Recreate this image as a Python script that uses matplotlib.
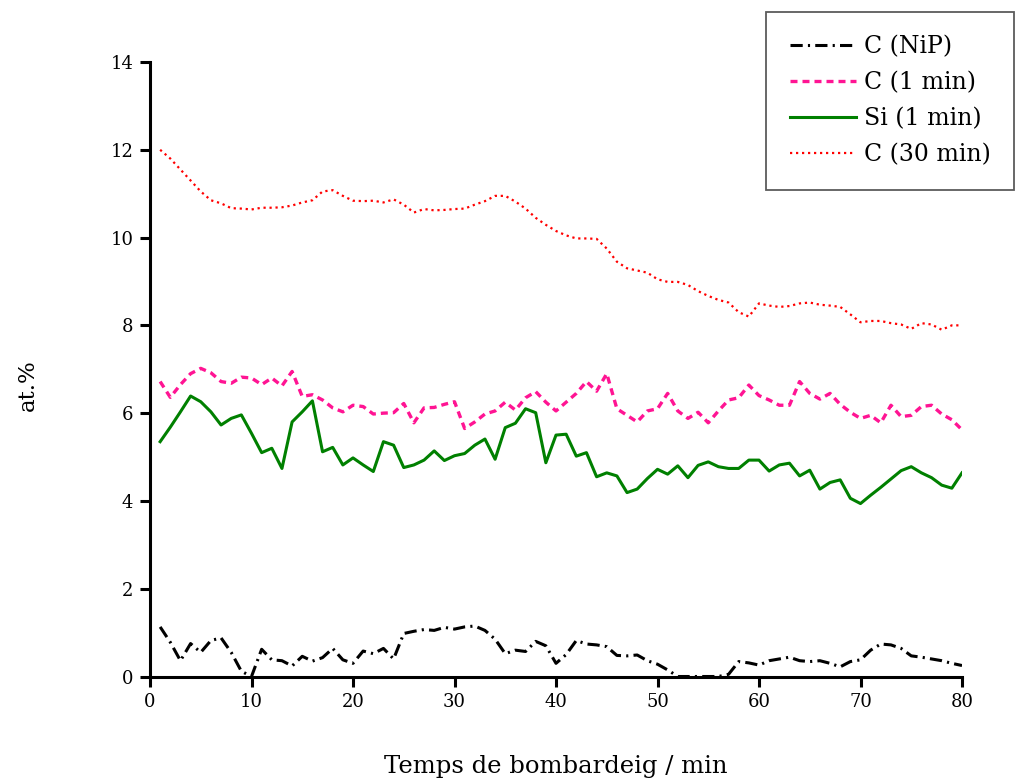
import matplotlib
matplotlib.use("Agg")
import matplotlib.pyplot as plt
import numpy as np

# Sputter time (min)
t = np.arange(1, 81)

c_nip = [1.13, 0.78, 0.36, 0.75, 0.55, 0.82, 0.88, 0.55, 0.12, 0.0,
         0.62, 0.38, 0.36, 0.24, 0.46, 0.35, 0.43, 0.64, 0.38, 0.30,
         0.58, 0.52, 0.64, 0.40, 0.98, 1.03, 1.07, 1.05, 1.12, 1.08,
         1.13, 1.15, 1.05, 0.85, 0.52, 0.60, 0.57, 0.80, 0.70, 0.30,
         0.50, 0.82, 0.74, 0.72, 0.68, 0.48, 0.47, 0.49, 0.36, 0.28,
         0.15, 0.0, 0.0, 0.0, 0.0, 0.0, 0.05, 0.34, 0.31, 0.26,
         0.36, 0.40, 0.44, 0.36, 0.34, 0.36, 0.30, 0.22, 0.34, 0.38,
         0.60, 0.74, 0.72, 0.64, 0.47, 0.44, 0.40, 0.36, 0.30, 0.25]

c_1min = [6.72, 6.36, 6.65, 6.90, 7.02, 6.92, 6.72, 6.68, 6.82, 6.80,
          6.65, 6.80, 6.62, 6.95, 6.38, 6.42, 6.30, 6.12, 6.03, 6.18,
          6.15, 5.98, 6.00, 6.01, 6.22, 5.78, 6.12, 6.13, 6.20, 6.26,
          5.65, 5.80, 5.98, 6.05, 6.25, 6.07, 6.35, 6.49, 6.25, 6.05,
          6.25, 6.45, 6.72, 6.50, 6.90, 6.10, 5.95, 5.80, 6.05, 6.10,
          6.45, 6.05, 5.88, 6.02, 5.78, 6.05, 6.30, 6.35, 6.64, 6.40,
          6.30, 6.18, 6.18, 6.72, 6.45, 6.32, 6.45, 6.20, 6.02, 5.88,
          5.95, 5.78, 6.18, 5.92, 5.95, 6.15, 6.18, 5.98, 5.85, 5.62]

si_1min = [5.35, 5.68, 6.03, 6.39, 6.26, 6.03, 5.73, 5.88, 5.96, 5.54,
           5.10, 5.20, 4.74, 5.80, 6.03, 6.28, 5.12, 5.22, 4.82, 4.98,
           4.82, 4.67, 5.35, 5.27, 4.76, 4.82, 4.93, 5.14, 4.92, 5.03,
           5.08, 5.27, 5.41, 4.95, 5.67, 5.77, 6.10, 6.01, 4.87, 5.50,
           5.52, 5.02, 5.10, 4.55, 4.64, 4.57, 4.19, 4.27, 4.51, 4.72,
           4.61, 4.80, 4.53, 4.81, 4.89, 4.78, 4.74, 4.74, 4.93, 4.93,
           4.68, 4.82, 4.86, 4.57, 4.70, 4.27, 4.42, 4.48, 4.06, 3.94,
           4.13, 4.31, 4.50, 4.69, 4.78, 4.64, 4.53, 4.36, 4.29, 4.64]

c_30min = [12.00, 11.80, 11.55, 11.30, 11.05, 10.85, 10.78, 10.67, 10.66, 10.64,
           10.68, 10.68, 10.69, 10.73, 10.80, 10.85, 11.05, 11.08, 10.95, 10.84,
           10.83, 10.84, 10.80, 10.87, 10.75, 10.57, 10.65, 10.62, 10.63, 10.65,
           10.66, 10.75, 10.83, 10.95, 10.95, 10.82, 10.66, 10.45, 10.29, 10.15,
           10.05, 9.98, 9.98, 9.97, 9.75, 9.45, 9.30, 9.25, 9.20, 9.05,
           8.99, 8.99, 8.92, 8.78, 8.67, 8.58, 8.52, 8.30, 8.20, 8.50,
           8.45, 8.42, 8.44, 8.50, 8.52, 8.47, 8.45, 8.42, 8.25, 8.07,
           8.10, 8.10, 8.05, 8.02, 7.92, 8.05, 8.02, 7.90, 8.00, 8.00]

labels = ["C (NiP)", "C (1 min)", "Si (1 min)", "C (30 min)"]

plt.rcParams["font.family"] = ["DejaVu Serif"]

fig = plt.figure(figsize=(10.16, 7.8), dpi=100)
ax = fig.add_axes([150 / 1016, 1 - 676.5 / 780, 812 / 1016, 614.5 / 780])

ax.plot(t, c_nip, color="black", lw=2.2, dashes=(4, 1.7, 0.7, 1.7), label=labels[0])
ax.plot(t, c_1min, color="#ff1493", lw=2.4, dashes=(2.1, 1.5), label=labels[1])
ax.plot(t, si_1min, color="#008000", lw=2.2, label=labels[2])
ax.plot(t, c_30min, color="red", lw=1.6, dashes=(1, 1.7), label=labels[3])

ax.set_xlim(0, 80)
ax.set_ylim(0, 14)
ax.set_xticks(np.arange(0, 81, 10))
ax.set_yticks(np.arange(0, 15, 2))
for side in ["top", "right"]:
    ax.spines[side].set_visible(False)
for side in ["left", "bottom"]:
    ax.spines[side].set_linewidth(2.2)
ax.tick_params(direction="out", length=7, width=2.2, labelsize=13, pad=5)

fig.text(28 / 1016, 1 - 385 / 780, "at.%", rotation=90, ha="center",
         va="center", fontsize=16.5)
fig.text(556 / 1016, 1 - 766 / 780, "Temps de bombardeig / min", ha="center",
         va="center", fontsize=17.5)

leg = fig.legend(loc="upper right", bbox_to_anchor=(1014 / 1016, 1 - 12 / 780),
                 fontsize=17, frameon=True, fancybox=False, handlelength=2.8,
                 handletextpad=0.33, borderpad=1.0, labelspacing=0.55,
                 borderaxespad=0)
leg.get_frame().set_edgecolor("#333333")
leg.get_frame().set_linewidth(1.3)

fig.savefig("out.png", dpi=100)
